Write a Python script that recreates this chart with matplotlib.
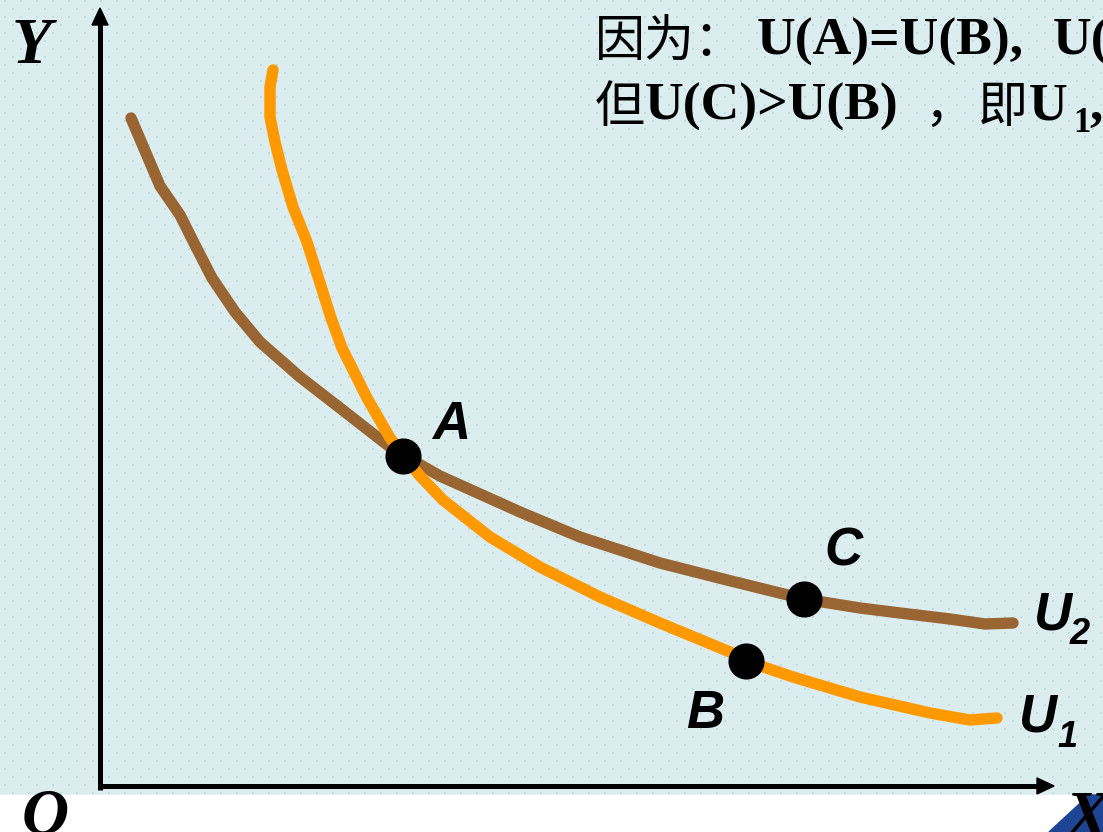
import numpy as np
import matplotlib
matplotlib.use('Agg')
import matplotlib.pyplot as plt
from matplotlib.patches import Polygon, Rectangle

# ---- data (schematic coordinates, y measured downward) ----
u2_x = [131, 160, 180, 195, 212, 235, 260, 300, 340, 390, 403, 440, 480, 520,
        580, 660, 727, 804, 860, 900, 950, 985, 1013]
u2_y = [118, 186, 215, 245, 278, 312, 342, 377, 408, 447, 455, 476, 494, 512,
        537, 563, 580, 599, 608, 613, 619, 624, 623]
u1_x = [273, 270, 270, 275, 282, 293, 307, 320, 331, 342, 367, 390, 403, 420,
        443, 490, 540, 600, 660, 730, 746, 793, 860, 930, 970, 997]
u1_y = [70, 87, 117, 142, 170, 207, 242, 283, 318, 348, 398, 438, 455, 476,
        500, 537, 567, 597, 623, 652, 661, 677, 697, 713, 720, 718]
point_names = ['A', 'B', 'C']
point_x = [403, 746, 804]
point_y = [456, 661, 599]

W, H = 1103, 832
fig = plt.figure(figsize=(W / 100, H / 100), dpi=100)
ax = fig.add_axes([0, 0, 1, 1])
ax.set_xlim(0, W)
ax.set_ylim(H, 0)
ax.axis('off')

# background with dotted texture
bg_h = 795
img = np.empty((bg_h, W, 3))
img[:] = np.array([219, 237, 238]) / 255
dot = np.array([188, 222, 224]) / 255
for r in range(0, bg_h, 8):
    off = 4 if (r // 8) % 2 == 0 else 12
    for c in range(off, W, 16):
        img[r:r + 2, c:c + 2] = dot
ax.imshow(img, extent=(0, W, bg_h, 0), interpolation='nearest', zorder=0, aspect='auto')
ax.add_patch(Rectangle((0, bg_h), W, H - bg_h, color='white', zorder=0.5))
ax.add_patch(Polygon([(1049, 832), (1089, 795), (1103, 795), (1103, 832)],
                     closed=True, color='#1E4594', zorder=0.6))
ax.set_xlim(0, W)
ax.set_ylim(H, 0)

# axes arrows
ax.plot([100, 100], [790, 22], color='black', lw=3.6, zorder=2, solid_capstyle='butt')
ax.add_patch(Polygon([(92, 25), (108, 25), (100, 8)], closed=True, color='black', zorder=2))
ax.plot([98, 1040], [786, 786], color='black', lw=3.6, zorder=2, solid_capstyle='butt')
ax.add_patch(Polygon([(1037, 778), (1037, 794), (1054, 786)], closed=True, color='black', zorder=2))

# curves
ax.plot(u2_x, u2_y, color='#996633', lw=8.2, solid_capstyle='round', solid_joinstyle='round', zorder=3)
ax.plot(u1_x, u1_y, color='#FF9900', lw=8.2, solid_capstyle='round', solid_joinstyle='round', zorder=3)
ax.plot(point_x, point_y, 'o', color='black', ms=25, zorder=4, linestyle='none')

lab = dict(fontfamily='Liberation Sans', fontweight='bold', fontstyle='italic',
           ha='left', va='baseline', color='black', zorder=5)
ax.text(432, 439, 'A', fontsize=38, **lab)
ax.text(686, 728, 'B', fontsize=38, **lab)
ax.text(824, 566, 'C', fontsize=38, **lab)
ax.text(1034, 630, 'U', fontsize=38, **lab)
ax.text(1070, 644, '2', fontsize=26, **lab)
ax.text(1019, 732, 'U', fontsize=38, **lab)
ax.text(1057, 747, '1', fontsize=26, **lab)

ser = dict(fontfamily='Liberation Serif', fontweight='bold', fontstyle='italic',
           ha='left', va='baseline', color='black', zorder=5)
ax.text(12, 63, 'Y', fontsize=47, **ser)
ax.text(22, 834, 'O', fontsize=47, **ser)
ax.text(1066, 836, 'X', fontsize=47, **ser)

cjk = dict(fontfamily=['Noto Sans CJK SC'], fontweight='medium', ha='left',
           va='baseline', color='black', zorder=5, fontsize=36)
lat = dict(fontfamily='Liberation Serif', fontweight='bold', ha='left',
           va='baseline', color='black', zorder=5, fontsize=38.5)
ax.text(595, 57, '因为：', **cjk)
ax.text(757, 55, 'U(A)=U(B),', **lat)
ax.text(1053, 55, 'U(A)=U(C)', **lat)
ax.text(595, 122, '但', **cjk)
ax.text(645, 120, 'U(C)>U(B)', **lat)
ax.text(924, 122, '，', **cjk)
ax.text(978, 122, '即', **cjk)
ax.text(1029, 120, 'U', **lat)
ax.text(1073, 132, '1', fontfamily='Liberation Serif', fontweight='bold', ha='left',
        va='baseline', color='black', zorder=5, fontsize=25)
ax.text(1089, 120, ',', **lat)

fig.savefig('out.png', dpi=100)
